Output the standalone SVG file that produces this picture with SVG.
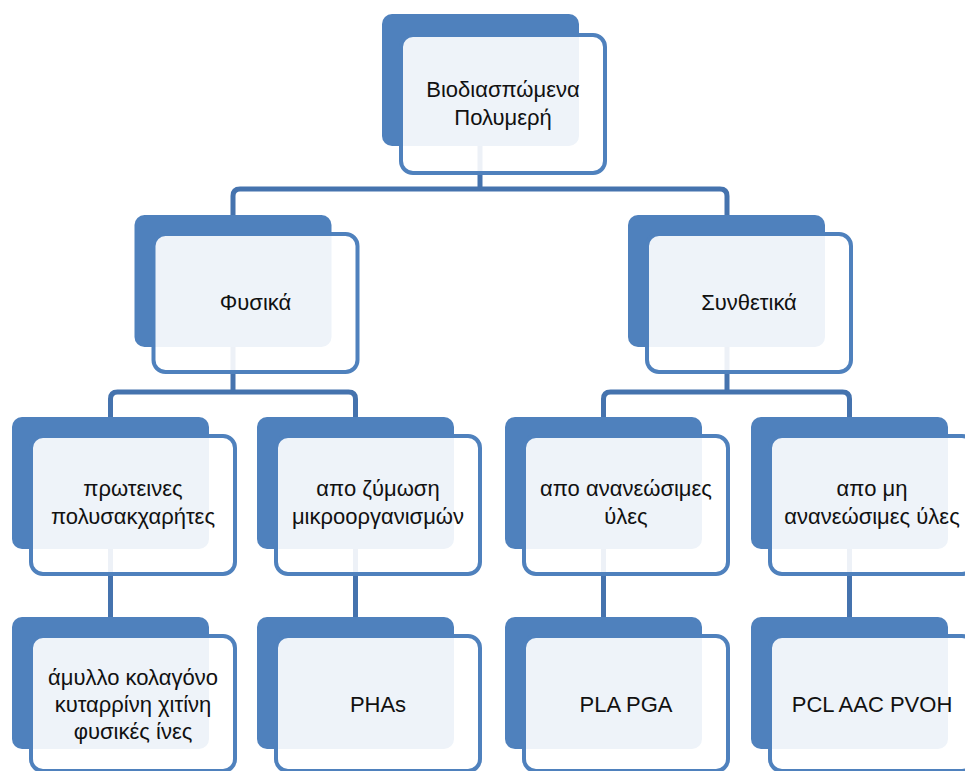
<svg xmlns="http://www.w3.org/2000/svg" width="965" height="771" viewBox="0 0 965 771">
<style>
.back{fill:#4F81BD;}
.front{fill:#ffffff;fill-opacity:0.9;stroke:#4F81BD;stroke-width:4;}
.conn{fill:none;stroke:#4573AE;stroke-width:5;}
text{font-family:"Liberation Sans",Arial,sans-serif;font-size:22px;fill:#111;text-anchor:middle;}
</style>
<rect width="965" height="771" fill="#ffffff"/>
<g id="connectors">
<path class="conn" d="M480,146 V189"/>
<path class="conn" d="M233,215 V196 Q233,189 240,189 H720 Q727,189 727,196 V215"/>
<path class="conn" d="M233,347 V392"/>
<path class="conn" d="M110.5,417 V399 Q110.5,392 117.5,392 H348.5 Q355.5,392 355.5,399 V417"/>
<path class="conn" d="M727,347 V392"/>
<path class="conn" d="M603.5,417 V399 Q603.5,392 610.5,392 H842.5 Q849.5,392 849.5,399 V417"/>
<path class="conn" d="M110.5,547 V617"/>
<path class="conn" d="M355.5,547 V617"/>
<path class="conn" d="M603.5,547 V617"/>
<path class="conn" d="M849.5,547 V617"/>
</g>
<g id="node-root">
<rect class="back" x="382" y="14" width="197" height="132" rx="10"/>
<rect class="front" x="401" y="35" width="204" height="138" rx="12"/>
<text x="503" y="97">Βιοδιασπώμενα</text>
<text x="503" y="125">Πολυμερή</text>
</g>
<g id="node-fysika">
<rect class="back" x="134.5" y="215" width="197" height="132" rx="10"/>
<rect class="front" x="153.5" y="234" width="204" height="138" rx="12"/>
<text x="255.5" y="310">Φυσικά</text>
</g>
<g id="node-synthetika">
<rect class="back" x="628" y="215" width="197" height="132" rx="10"/>
<rect class="front" x="647" y="234" width="204" height="138" rx="12"/>
<text x="749" y="310">Συνθετικά</text>
</g>
<g id="node-proteines">
<rect class="back" x="12" y="417" width="197" height="132" rx="10"/>
<rect class="front" x="31" y="436" width="204" height="138" rx="12"/>
<text x="133" y="496">πρωτεινες</text>
<text x="133" y="524">πολυσακχαρήτες</text>
</g>
<g id="node-zymosi">
<rect class="back" x="257" y="417" width="197" height="132" rx="10"/>
<rect class="front" x="276" y="436" width="204" height="138" rx="12"/>
<text x="378" y="496">απο ζύμωση</text>
<text x="378" y="524">μικροοργανισμών</text>
</g>
<g id="node-ananeosimes">
<rect class="back" x="505" y="417" width="197" height="132" rx="10"/>
<rect class="front" x="524" y="436" width="204" height="138" rx="12"/>
<text x="626" y="496">απο ανανεώσιμες</text>
<text x="626" y="524">ύλες</text>
</g>
<g id="node-mi-ananeosimes">
<rect class="back" x="751" y="417" width="197" height="132" rx="10"/>
<rect class="front" x="770" y="436" width="204" height="138" rx="12"/>
<text x="872" y="496">απο μη</text>
<text x="872" y="524">ανανεώσιμες ύλες</text>
</g>
<g id="node-amylo">
<rect class="back" x="12" y="617" width="197" height="132" rx="10"/>
<rect class="front" x="31" y="636" width="204" height="135" rx="12"/>
<text x="133" y="685">άμυλλο κολαγόνο</text>
<text x="133" y="712">κυταρρίνη χιτίνη</text>
<text x="133" y="739">φυσικές ίνες</text>
</g>
<g id="node-pha">
<rect class="back" x="257" y="617" width="197" height="132" rx="10"/>
<rect class="front" x="276" y="636" width="204" height="135" rx="12"/>
<text x="378" y="712">PHAs</text>
</g>
<g id="node-pla">
<rect class="back" x="505" y="617" width="197" height="132" rx="10"/>
<rect class="front" x="524" y="636" width="204" height="135" rx="12"/>
<text x="626" y="712">PLA PGA</text>
</g>
<g id="node-pcl">
<rect class="back" x="751" y="617" width="197" height="132" rx="10"/>
<rect class="front" x="770" y="636" width="204" height="135" rx="12"/>
<text x="872" y="712">PCL AAC PVOH</text>
</g>
</svg>
